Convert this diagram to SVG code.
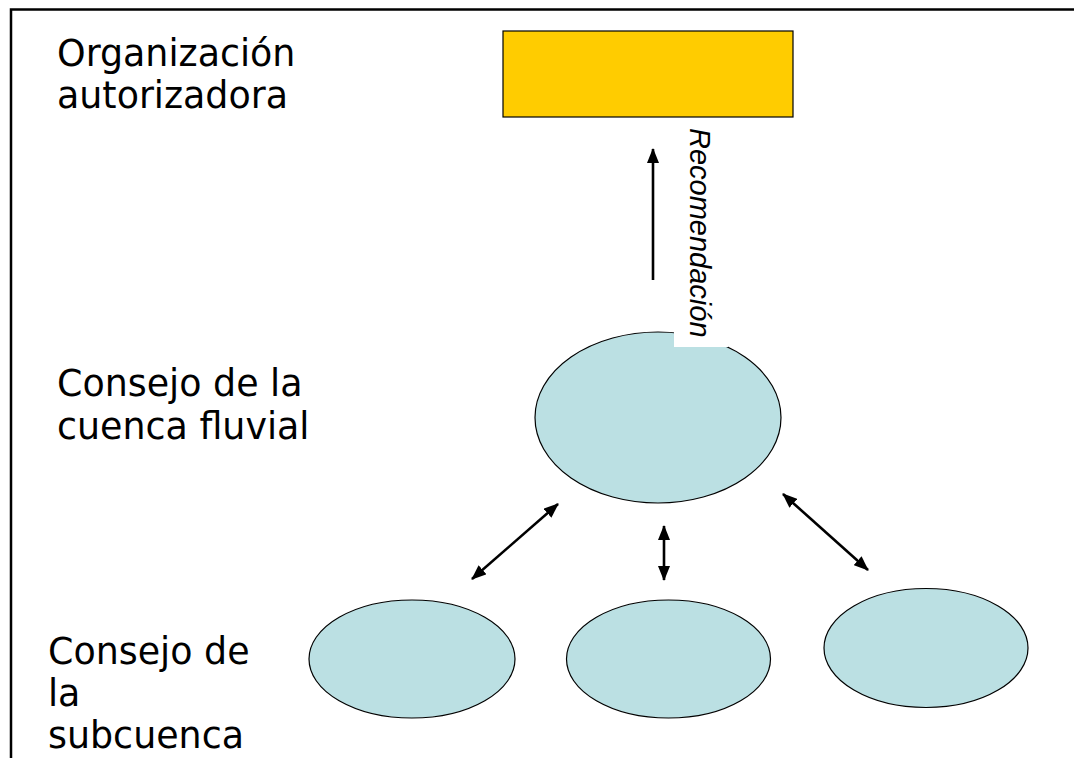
<svg xmlns="http://www.w3.org/2000/svg" width="1074" height="758" viewBox="0 0 1074 758">
<style>
.lbl{font-family:"DejaVu Sans",Verdana,sans-serif;font-size:36.4px;fill:#000}
.node{fill:#BBE0E3;stroke:#000;stroke-width:1.2}
.conn{stroke:#000;stroke-width:2.6;fill:none}
.rot{font-family:"Liberation Sans",Arial,sans-serif;font-style:italic;font-size:29px;fill:#000}
</style>
<defs>
<marker id="ah" viewBox="0 0 15 12" refX="14" refY="6" markerWidth="15" markerHeight="12" markerUnits="userSpaceOnUse" orient="auto-start-reverse">
<path d="M0,0 L15,6 L0,12 Z" fill="#000"/>
</marker>
</defs>
<rect width="1074" height="758" fill="#fff"/>
<path d="M11,758 V9.5 H1074" fill="none" stroke="#000" stroke-width="2.5"/>
<g id="labels">
<text class="lbl" x="57" y="66">Organización</text>
<text class="lbl" x="57" y="108">autorizadora</text>
<text class="lbl" x="57" y="396">Consejo de la</text>
<text class="lbl" x="57" y="439">cuenca fluvial</text>
<text class="lbl" x="48" y="664">Consejo de</text>
<text class="lbl" x="48" y="706">la</text>
<text class="lbl" x="48" y="748">subcuenca</text>
</g>
<g id="node-org">
<rect x="503" y="31" width="290" height="86" fill="#FFCC00" stroke="#000" stroke-width="1.2"/>
</g>
<g id="node-river">
<ellipse class="node" cx="658" cy="417.5" rx="123" ry="85.5"/>
</g>
<g id="node-sub1">
<ellipse class="node" cx="412" cy="659" rx="103" ry="59"/>
</g>
<g id="node-sub2">
<ellipse class="node" cx="668.5" cy="659" rx="102" ry="59"/>
</g>
<g id="node-sub3">
<ellipse class="node" cx="926" cy="648" rx="102" ry="59.5"/>
</g>
<g id="connectors">
<line class="conn" x1="653" y1="280" x2="653" y2="149" marker-end="url(#ah)"/>
<line class="conn" x1="472" y1="579" x2="558" y2="504" marker-start="url(#ah)" marker-end="url(#ah)"/>
<line class="conn" x1="664" y1="526" x2="664" y2="580" marker-start="url(#ah)" marker-end="url(#ah)"/>
<line class="conn" x1="783" y1="494" x2="868" y2="570" marker-start="url(#ah)" marker-end="url(#ah)"/>
</g>
<g id="label-recomendacion">
<rect x="674" y="118" width="54" height="229" fill="#fff"/>
<text class="rot" transform="translate(690,128) rotate(90)">Recomendación</text>
</g>
</svg>
